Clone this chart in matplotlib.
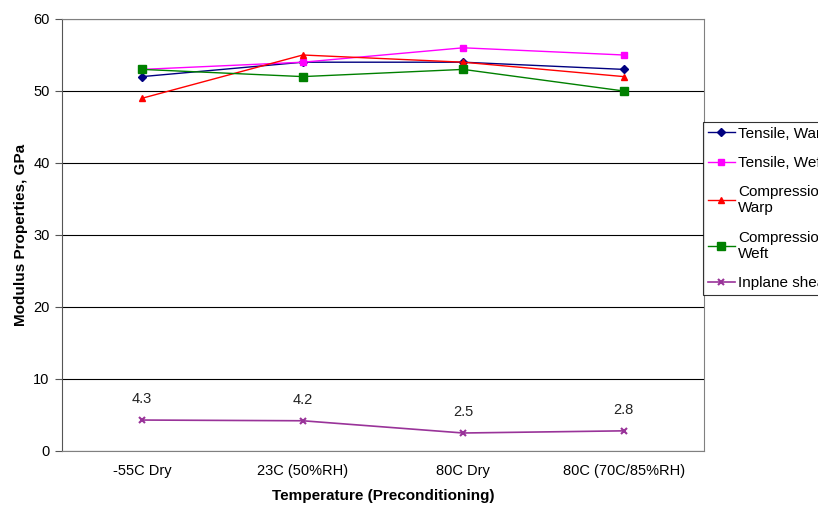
import matplotlib
matplotlib.use('Agg')
import matplotlib.pyplot as plt

plt.rcParams['font.family'] = ['Liberation Sans', 'DejaVu Sans']

categories = ['-55C Dry', '23C (50%RH)', '80C Dry', '80C (70C/85%RH)']
tensile_warp = [52, 54, 54, 53]
tensile_weft = [53, 54, 56, 55]
comp_warp = [49, 55, 54, 52]
comp_weft = [53, 52, 53, 50]
inplane_shear = [4.3, 4.2, 2.5, 2.8]

fig = plt.figure(figsize=(8.18, 5.05), dpi=100)
ax = fig.add_axes([62/818, 54/505, 642/818, 432/505])

x = range(len(categories))
ax.plot(x, tensile_warp, color='#000080', marker='D', ms=4, lw=1, label='Tensile, Warp')
ax.plot(x, tensile_weft, color='#ff00ff', marker='s', ms=5, lw=1, label='Tensile, Weft')
ax.plot(x, comp_warp, color='#ff0000', marker='^', ms=5, lw=1, label='Compression,\nWarp')
ax.plot(x, comp_weft, color='#008000', marker='s', ms=6, lw=1, label='Compression,\nWeft')
ax.plot(x, inplane_shear, color='#993399', marker='x', ms=5, mew=1.5, lw=1.2, label='Inplane shear')

# data labels on the shear series
for i, v in enumerate(inplane_shear):
    ax.text(i, v + 2.9, str(v), ha='center', va='center', fontsize=10.5, color='#222222')

ax.set_xlim(-0.5, 3.5)
ax.set_ylim(0, 60)
ax.set_yticks(range(0, 61, 10))
ax.set_xticks(list(x))
ax.set_xticklabels(categories)
ax.tick_params(axis='y', direction='out', length=5, color='#555555', labelsize=10.5, pad=4)
ax.tick_params(axis='x', length=0, labelsize=10.5, pad=9)
ax.yaxis.grid(True, color='black', lw=0.8)
ax.set_axisbelow(True)
for s in ax.spines.values():
    s.set_color('#808080')
ax.spines['left'].set_color('#555555')

ax.set_xlabel('Temperature (Preconditioning)', fontsize=11, fontweight='bold', labelpad=8)
ax.set_ylabel('Modulus Properties, GPa', fontsize=11, fontweight='bold', labelpad=4)

leg = fig.legend(loc='upper left', bbox_to_anchor=(703/818, (505-122)/505),
                 fontsize=11, frameon=True, fancybox=False, edgecolor='black',
                 labelspacing=1.0, handlelength=1.8, handletextpad=0.2,
                 borderpad=0.3, borderaxespad=0)
leg.get_frame().set_linewidth(0.8)

fig.savefig('out.png', dpi=100)
